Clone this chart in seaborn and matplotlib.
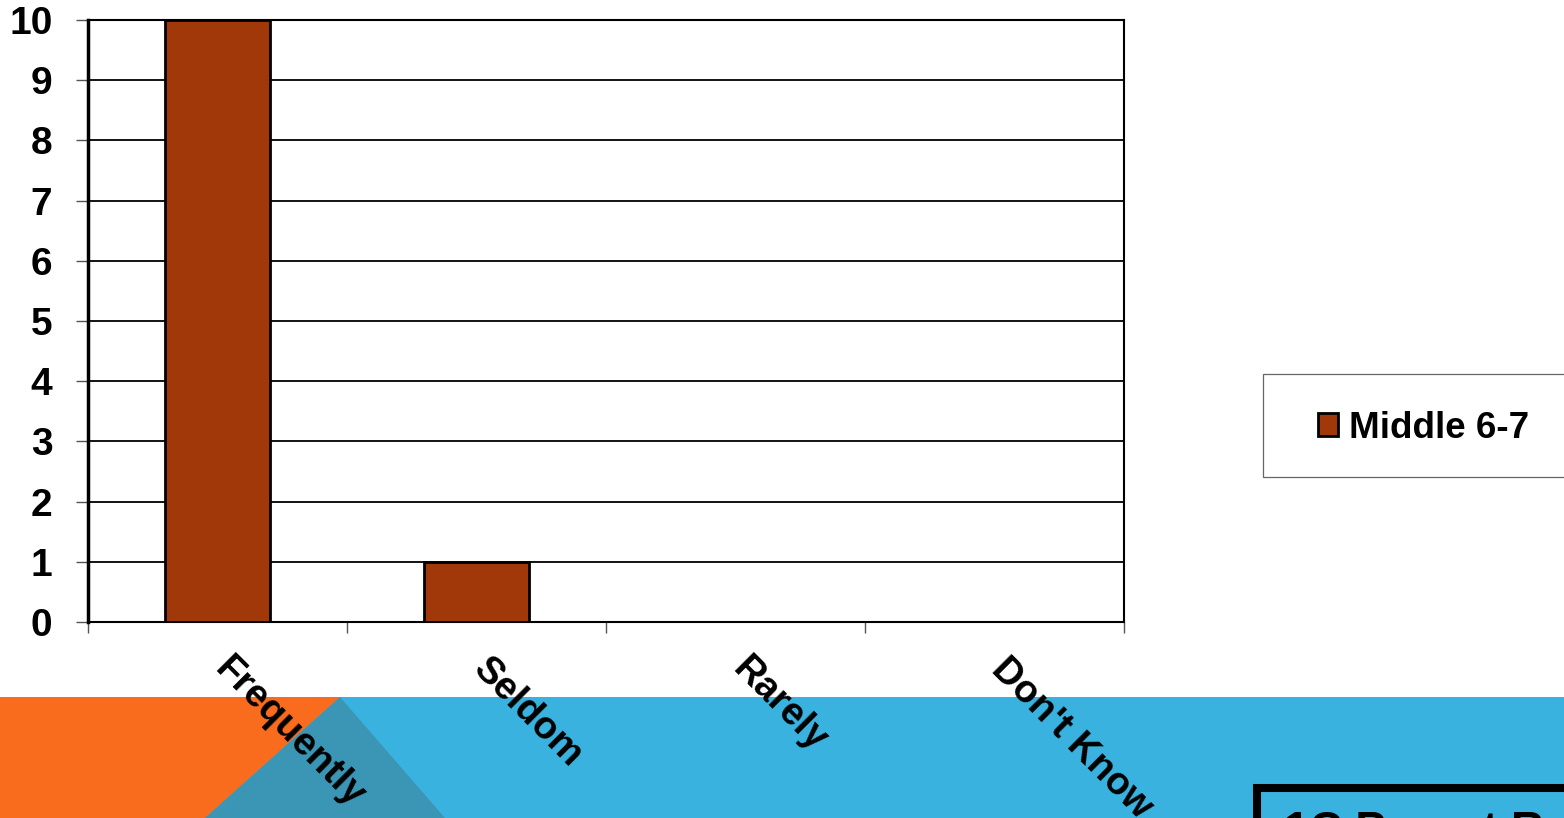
import matplotlib
matplotlib.use("Agg")
import matplotlib.pyplot as plt
from matplotlib.patches import Polygon, Rectangle
import seaborn as sns
import pandas as pd

categories = ["Frequently", "Seldom", "Rarely", "Don't Know"]
values = [10, 1, 0, 0]
series_name = "Middle 6-7"
y_ticks = list(range(0, 11))

bar_color = "#A1380A"

sns.set_style("white")
plt.rcParams["font.family"] = ["Liberation Sans", "DejaVu Sans"]
plt.rcParams["font.weight"] = "bold"
plt.rcParams["text.color"] = "black"
plt.rcParams["xtick.labelcolor"] = "black"
plt.rcParams["ytick.labelcolor"] = "black"

df = pd.DataFrame({"category": categories, "value": values, "series": series_name})

W, H = 1564, 818
fig = plt.figure(figsize=(W / 100, H / 100), dpi=100)
fig.patch.set_facecolor("white")

# decorative band at the bottom of the slide
band_top = 1 - 697 / H
fig.patches.append(Rectangle((0, 0), 1, band_top, transform=fig.transFigure,
                             facecolor="#3AB2E0", edgecolor="none", zorder=0))
fig.patches.append(Polygon([(0, 0), (0, band_top), (340 / W, band_top), (205 / W, 0)],
                           closed=True, transform=fig.transFigure,
                           facecolor="#F96B1D", edgecolor="none", zorder=0))
fig.patches.append(Polygon([(205 / W, 0), (340 / W, band_top), (445 / W, 0)],
                           closed=True, transform=fig.transFigure,
                           facecolor="#3A96B4", edgecolor="none", zorder=0))
fig.patches.append(Rectangle((1257 / W, -0.05), 0.3, 0.05 + (818 - 787.5) / H,
                             transform=fig.transFigure, facecolor="none",
                             edgecolor="black", linewidth=5.8, zorder=1))
# slide caption, mostly below the visible area as in the source
fig.text(1284 / W, 1 - 810 / H, "1C Parent Responses", fontsize=33,
         fontweight="bold", va="top", ha="left", color="black")

# legend frame (runs off the right edge like in the slide)
fig.patches.append(Rectangle((1263 / W, 1 - 477 / H), 0.3, 103 / H,
                             transform=fig.transFigure, facecolor="white",
                             edgecolor="#666666", linewidth=0.9, zorder=1))

ax = fig.add_axes([88 / W, 1 - 622 / H, (1124 - 88) / W, (622 - 20) / H])
ax.set_zorder(5)
sns.barplot(data=df, x="category", y="value", hue="series", palette=[bar_color],
            saturation=1, width=0.405, edgecolor="black", linewidth=2, ax=ax, zorder=3)

ax.set_ylim(0, 10)
ax.set_xlim(-0.5, 3.5)
ax.set_yticks(y_ticks)
ax.set_yticklabels([str(t) for t in y_ticks], fontsize=28, fontweight="bold")
ax.yaxis.grid(True, color="black", linewidth=1.3, zorder=0)
ax.set_axisbelow(True)
ax.tick_params(axis="y", length=8.6, width=1, color="#555555", pad=17, left=True)
ax.tick_params(axis="x", length=0)

# category boundary ticks
ax.set_xticks([-0.5, 0.5, 1.5, 2.5, 3.5], minor=True)
ax.tick_params(axis="x", which="minor", length=8, width=1, color="#555555", bottom=True)
ax.set_xticks(range(len(categories)))
ax.set_xticklabels([])
for i, lab in enumerate(categories):
    ax.annotate(lab, xy=(i, 0), xycoords=("data", "axes fraction"),
                xytext=(2, -30), textcoords="offset points",
                rotation=-45, rotation_mode="anchor", ha="left", va="center",
                fontsize=27.5, fontweight="bold", color="black", annotation_clip=False)

for side in ["left", "right", "top", "bottom"]:
    ax.spines[side].set_color("black")
    ax.spines[side].set_linewidth(1.5)
ax.spines["left"].set_linewidth(2.5)
ax.set_xlabel("")
ax.set_ylabel("")

handles, labels = ax.get_legend_handles_labels()
ax.legend_.remove()
leg = fig.legend(handles, labels, loc="center left",
                 bbox_to_anchor=(1318 / W, 1 - 428 / H), frameon=False,
                 prop={"weight": "bold", "size": 26.5},
                 handlelength=0.55, handleheight=0.55, handletextpad=0.28,
                 borderpad=0, borderaxespad=0)
leg.set_zorder(6)

fig.savefig("out.png", dpi=100)
